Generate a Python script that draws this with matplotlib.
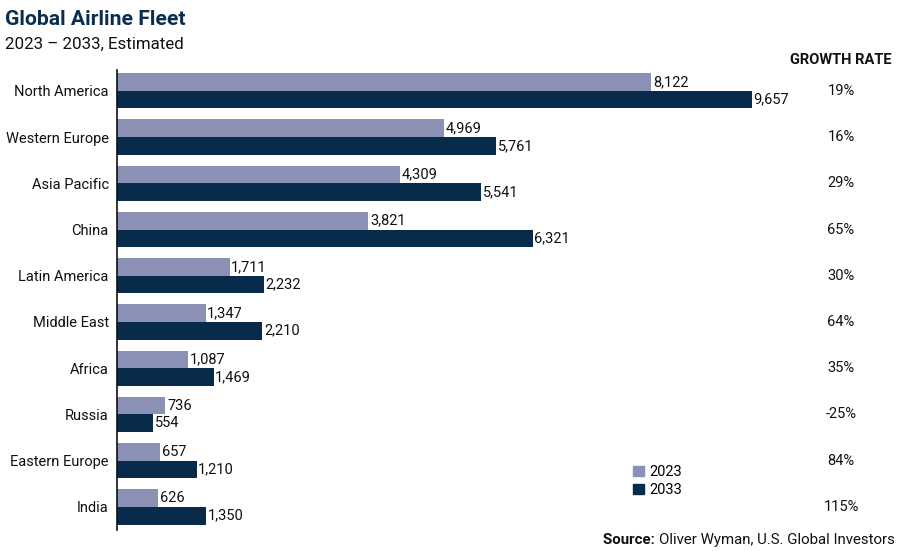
import numpy as np
import matplotlib
matplotlib.use('Agg')
import matplotlib.pyplot as plt
from matplotlib.patches import Patch

plt.rcParams['font.family'] = ['Roboto', 'DejaVu Sans']

regions = ['North America', 'Western Europe', 'Asia Pacific', 'China', 'Latin America',
           'Middle East', 'Africa', 'Russia', 'Eastern Europe', 'India']
fleet_2023 = [8122, 4969, 4309, 3821, 1711, 1347, 1087, 736, 657, 626]
fleet_2033 = [9657, 5761, 5541, 6321, 2232, 2210, 1469, 554, 1210, 1350]
growth = ['19%', '16%', '29%', '65%', '30%', '64%', '35%', '-25%', '84%', '115%']

c23 = '#8A91B4'
c33 = '#082B4C'
navy = '#0B2D4E'

fig = plt.figure(figsize=(9, 5.51), dpi=100)
ax = fig.add_axes([0.13, 0.038, 0.7367, 0.835])

y = np.arange(len(regions))
h = 0.38
b1 = ax.barh(y - h / 2, fleet_2023, height=h, color=c23, label='2023')
b2 = ax.barh(y + h / 2, fleet_2033, height=h, color=c33, label='2033')

for bars, vals in ((b1, fleet_2023), (b2, fleet_2033)):
    for bar, v in zip(bars, vals):
        ax.text(bar.get_width() + 25, bar.get_y() + bar.get_height() / 2, f'{v:,}',
                va='center', ha='left', fontsize=10.5, color='#111111')

for yi, g in zip(y, growth):
    ax.text(1.092, yi, g, transform=ax.get_yaxis_transform(), ha='center', va='center',
            fontsize=10.5, color='#111111')
ax.text(1.092, -0.66, 'GROWTH RATE', transform=ax.get_yaxis_transform(), ha='center',
        va='center', fontsize=10.5, fontweight='bold', color='#111111')

ax.set_xlim(0, 10082)
ax.set_ylim(9.5, -0.45)
ax.set_yticks(y)
ax.set_yticklabels(regions, fontsize=10.5, color='#111111')
ax.tick_params(axis='y', length=0, pad=6)
ax.set_xticks([])
for s in ['top', 'right', 'bottom']:
    ax.spines[s].set_visible(False)
ax.spines['left'].set_linewidth(1.2)
ax.spines['left'].set_color('#111111')

handles = [Patch(color=c23, label='2023'), Patch(color=c33, label='2033')]
ax.legend(handles=handles, loc='upper left', bbox_to_anchor=(0.759, 0.17), frameon=False,
          fontsize=10.5, handlelength=0.7, handleheight=0.7, handletextpad=0.4, labelspacing=0.3)

fig.text(0.006, 0.965, 'Global Airline Fleet', fontsize=15.2, fontweight='bold', color=navy,
         va='center', ha='left')
fig.text(0.006, 0.92, '2023 \u2013 2033, Estimated', fontsize=12.2, color='#111111',
         va='center', ha='left')
src = fig.text(0.994, 0.02, 'Oliver Wyman, U.S. Global Investors', fontsize=10.8,
               color='#111111', va='center', ha='right')
fig.canvas.draw()
bb = src.get_window_extent().transformed(fig.transFigure.inverted())
fig.text(bb.x0, 0.02, 'Source: ', fontsize=10.8, fontweight='bold', color='#111111',
         va='center', ha='right')

fig.savefig('out.png', dpi=100)
